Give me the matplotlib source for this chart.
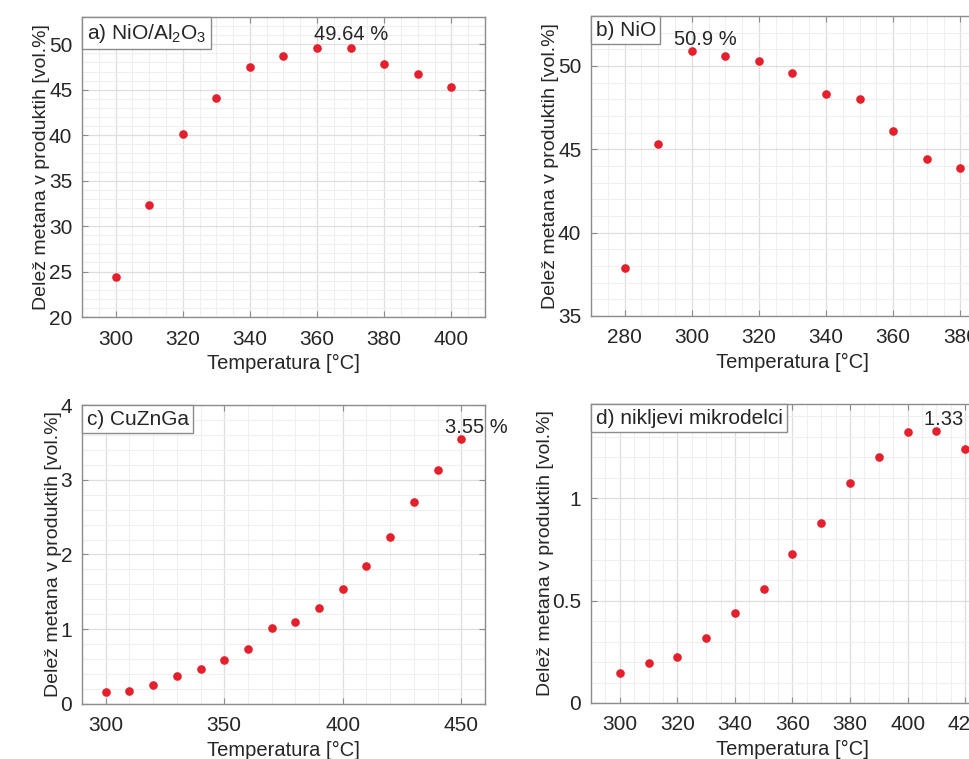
import numpy as np
import matplotlib.pyplot as plt
from matplotlib.ticker import AutoMinorLocator, MultipleLocator, FormatStrFormatter
from matplotlib.offsetbox import AnchoredText

plt.rcParams['font.family'] = ['Liberation Sans', 'DejaVu Sans']
plt.rcParams['mathtext.fontset'] = 'custom'
plt.rcParams['mathtext.rm'] = 'Liberation Sans'

# a) NiO/Al2O3
temp_a = [300, 310, 320, 330, 340, 350, 360, 370, 380, 390, 400]
ch4_a = [24.4, 32.3, 40.1, 44.1, 47.5, 48.7, 49.6, 49.64, 47.8, 46.7, 45.3]

# b) NiO
temp_b = [280, 290, 300, 310, 320, 330, 340, 350, 360, 370, 380]
ch4_b = [37.85, 45.3, 50.9, 50.6, 50.3, 49.55, 48.3, 48.0, 46.1, 44.4, 43.85]

# c) CuZnGa
temp_c = [300, 310, 320, 330, 340, 350, 360, 370, 380, 390, 400, 410, 420, 430, 440, 450]
ch4_c = [0.16, 0.18, 0.26, 0.37, 0.47, 0.59, 0.74, 1.01, 1.10, 1.28, 1.54, 1.84, 2.24, 2.70, 3.13, 3.55]

# d) nikljevi mikrodelci
temp_d = [300, 310, 320, 330, 340, 350, 360, 370, 380, 390, 400, 410, 420]
ch4_d = [0.145, 0.195, 0.226, 0.315, 0.44, 0.558, 0.73, 0.88, 1.073, 1.202, 1.325, 1.33, 1.242]

panels = [
    dict(x=temp_a, y=ch4_a, pos=[0.0846, 0.5823, 0.4159, 0.3953],
         xlim=(290, 410), ylim=(20, 53), xstep=20, ystep=5,
         label=r'a) NiO/Al$\mathregular{_2}$O$\mathregular{_3}$',
         note='49.64 %', note_xy=(370, 51.3), note_ha='center'),
    dict(x=temp_b, y=ch4_b, pos=[0.6099, 0.5837, 0.4159, 0.3953],
         xlim=(270, 390), ylim=(35, 53), xstep=20, ystep=5,
         label='b) NiO',
         note='50.9 %', note_xy=(304, 51.7), note_ha='center'),
    dict(x=temp_c, y=ch4_c, pos=[0.0846, 0.0725, 0.4159, 0.3939],
         xlim=(290, 460), ylim=(0, 4), xstep=50, ystep=1,
         label='c) CuZnGa',
         note='3.55 %', note_xy=(443, 3.72), note_ha='left'),
    dict(x=temp_d, y=ch4_d, pos=[0.6099, 0.0738, 0.4159, 0.3939],
         xlim=(290, 430), ylim=(0, 1.46), xstep=20, ystep=0.5,
         label='d) nikljevi mikrodelci',
         note='1.33 %', note_xy=(405.8, 1.395), note_ha='left'),
]

fig = plt.figure(figsize=(9.69, 7.59), dpi=100)

for p in panels:
    ax = fig.add_axes(p['pos'])
    ax.plot(p['x'], p['y'], 'o', color='#e3202b', markersize=6.2, markeredgewidth=0)
    ax.set_xlim(*p['xlim'])
    ax.set_ylim(*p['ylim'])
    ax.xaxis.set_major_locator(MultipleLocator(p['xstep']))
    ax.yaxis.set_major_locator(MultipleLocator(p['ystep']))
    ax.yaxis.set_major_formatter(FormatStrFormatter('%g'))
    ax.xaxis.set_minor_locator(AutoMinorLocator())
    ax.yaxis.set_minor_locator(AutoMinorLocator())
    ax.grid(which='major', color='#dedede', lw=0.9)
    ax.grid(which='minor', color='#efefef', lw=0.8)
    ax.set_axisbelow(True)
    for s in ax.spines.values():
        s.set_color('#8c8c8c')
        s.set_linewidth(1.0)
    ax.tick_params(which='major', direction='in', length=4, width=0.8,
                   color='#8c8c8c', labelsize=15, labelcolor='#262626',
                   top=True, right=True, pad=7)
    ax.tick_params(axis='x', which='major', pad=9)
    ax.tick_params(which='minor', length=0)
    ax.set_xlabel('Temperatura [°C]', fontsize=14.5, color='#262626', labelpad=4)
    ax.set_ylabel('Delež metana v produktih [vol.%]', fontsize=14,
                  color='#262626', labelpad=-1)

    box = AnchoredText(p['label'], loc='upper left', pad=0.22, borderpad=0,
                       prop=dict(size=15, color='#262626'), frameon=True)
    box.patch.set_edgecolor('#8c8c8c')
    box.patch.set_linewidth(1.0)
    box.patch.set_boxstyle('square,pad=0')
    ax.add_artist(box)

    ax.text(p['note_xy'][0], p['note_xy'][1], p['note'], fontsize=14.5,
            color='#262626', ha=p['note_ha'], va='center_baseline', clip_on=False)

fig.savefig('out.png', dpi=100)
